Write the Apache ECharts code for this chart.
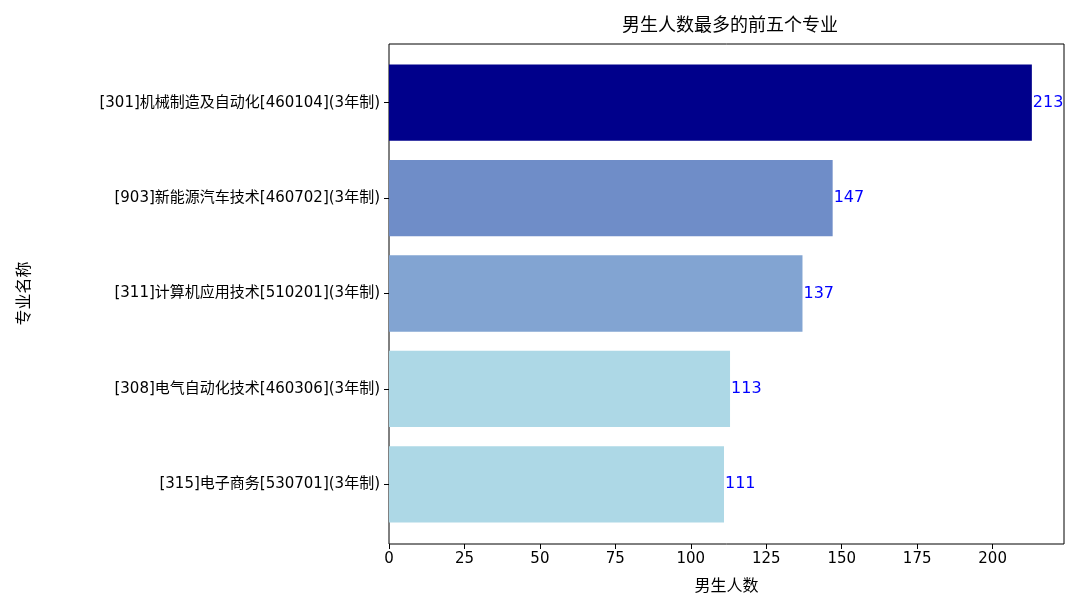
<!DOCTYPE html>
<html><head><meta charset="utf-8">
<script src="https://cdn.jsdelivr.net/npm/echarts@6/dist/echarts.min.js"></script>
<style>body{margin:0}#c{width:1080px;height:616px}</style></head>
<body><div id="c"></div>
<script>
var majors = ['[301]机械制造及自动化[460104](3年制)', '[903]新能源汽车技术[460702](3年制)', '[311]计算机应用技术[510201](3年制)', '[308]电气自动化技术[460306](3年制)', '[315]电子商务[530701](3年制)'];
var counts = [213, 147, 137, 113, 111];
var colors = ['#00008B', '#6F8DC8', '#82A4D2', '#ADD8E6', '#ADD8E6'];
var font = '"DejaVu Sans","Noto Sans CJK SC",sans-serif';
var chart = echarts.init(document.getElementById('c'));
chart.setOption({
  animation: false,
  title: {text: '男生人数最多的前五个专业', left: 725, top: 12, textAlign: 'center',
    textStyle: {fontFamily: font, fontSize: 18, fontWeight: 'normal', color: '#000'}},
  grid: {left: 389, right: 16, top: 55, bottom: 84},
  graphic: [{type: 'rect', shape: {x: 389, y: 44, width: 675, height: 500}, silent: true,
    style: {fill: 'none', stroke: '#000', lineWidth: 1}}],
  xAxis: {type: 'value', min: 0, max: 223.65, interval: 25, offset: 12,
    name: '男生人数', nameLocation: 'middle', nameGap: 35,
    nameTextStyle: {fontFamily: font, fontSize: 16, color: '#000'},
    axisLine: {show: false}, splitLine: {show: false},
    axisTick: {show: true, length: 5, lineStyle: {color: '#000'}},
    axisLabel: {fontFamily: font, fontSize: 15, color: '#000', margin: 8,
      showMaxLabel: false}},
  yAxis: {type: 'category', inverse: true, data: majors,
    name: '专业名称', nameLocation: 'middle', nameGap: 356, nameRotate: 90,
    nameTextStyle: {fontFamily: font, fontSize: 16, color: '#000'},
    axisLine: {show: false},
    axisTick: {show: true, alignWithLabel: true, length: 5, lineStyle: {color: '#000'}},
    axisLabel: {fontFamily: font, fontSize: 15, color: '#000', margin: 9}},
  series: [{type: 'bar', barCategoryGap: '20%',
    data: counts.map(function (v, i) { return {value: v, itemStyle: {color: colors[i]}}; }),
    label: {show: true, position: 'right', distance: 1, color: '#0000FF',
      fontFamily: font, fontSize: 16}}]
});
</script></body></html>
